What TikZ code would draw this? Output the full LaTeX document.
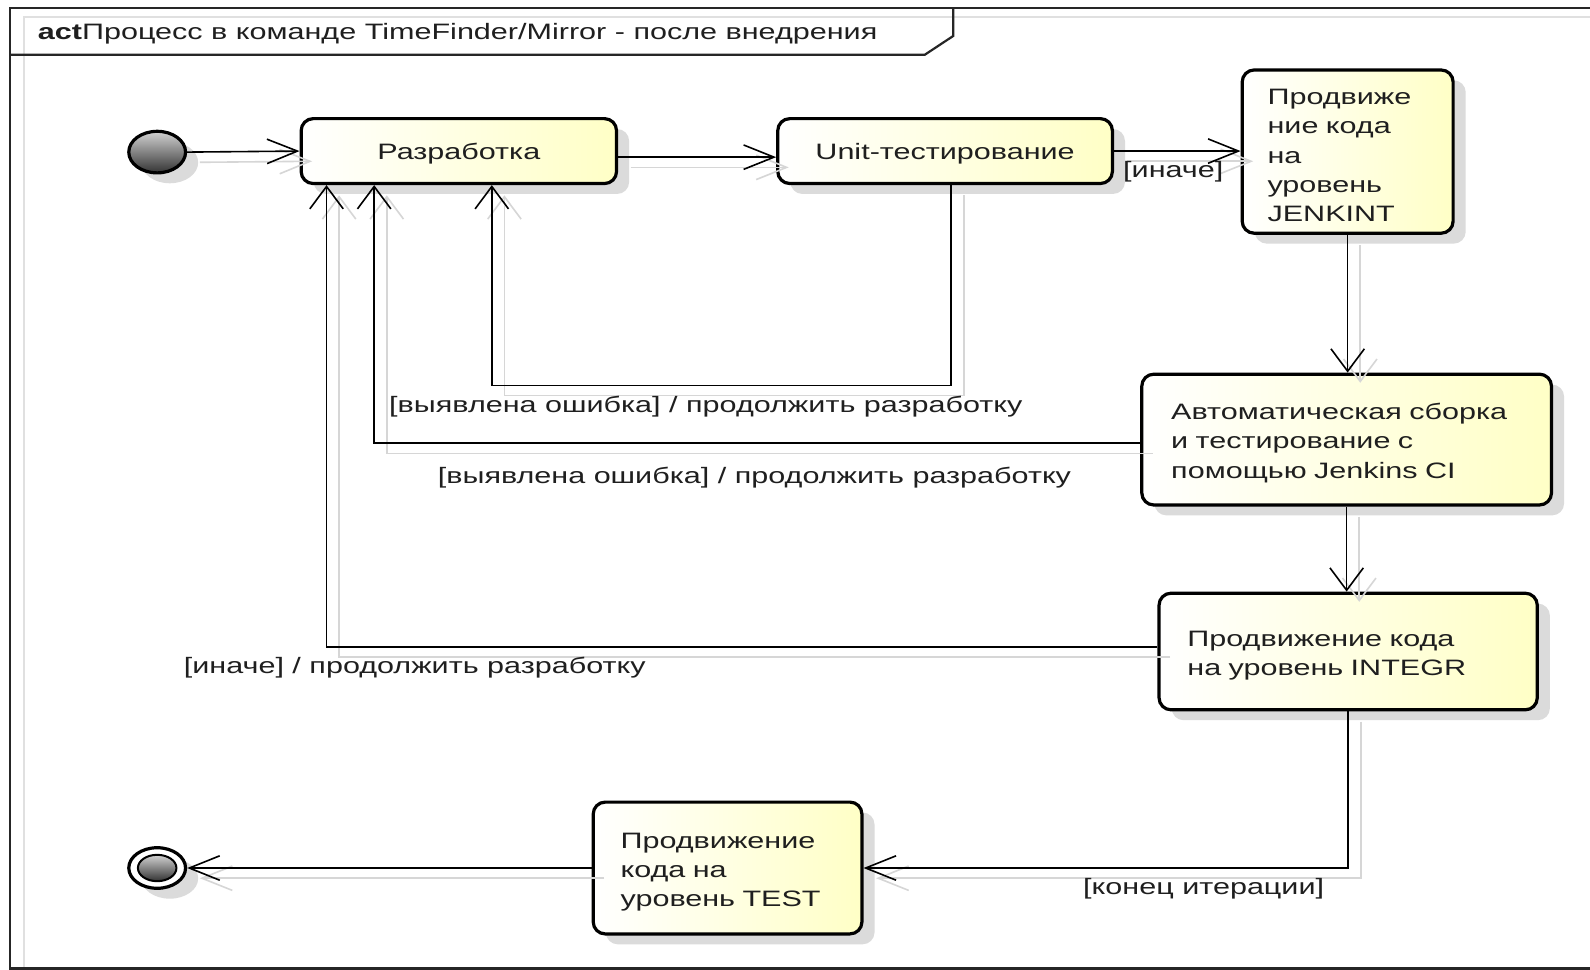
\documentclass[tikz,border=0pt]{standalone}
\usepackage{fontspec}
\setmainfont{Liberation Sans}[FakeStretch=1.37]
\usetikzlibrary{arrows.meta,shadows,shapes.geometric}
\newlength\U
\setlength\U{0.507pt}
\definecolor{boxy}{RGB}{255,255,198}
\newcommand\conn[2][]{\draw[ghost,#1] #2; \draw[wire,#1] #2;}
\begin{document}
\begin{tikzpicture}[x=0.507pt,y=-0.507pt,
  txt/.style={font=\fontsize{11.15pt}{14.55pt}\selectfont, text=black!88},
  box/.style={txt, draw=black, line width=1.6pt, rounded corners=6pt,
    left color=white, right color=boxy, inner ysep=0pt,
    drop shadow={shadow xshift=6.3pt, shadow yshift=-5.2pt, fill=black!14, opacity=1}},
  cbox/.style={box, text depth=0pt},
  lbox/.style={box, align=left, execute at begin node={\rule{0pt}{11.6pt}}},
  wire/.style={draw=black, line width=0.8pt},
  ghost/.style={draw=black!16, line width=0.8pt, transform canvas={xshift=6.3pt,yshift=-5.1pt}},
  harr/.style={-{Straight Barb[length=15.2pt,width=12.2pt]}},
  varr/.style={-{Straight Barb[length=11.2pt,width=16.7pt]}},
  lab/.style={txt, inner sep=0pt},
  blob/.style={ellipse, draw=black, line width=1.6pt, inner sep=0pt,
    top color=gray!35, bottom color=black!80}
]
\useasboundingbox (0,0) rectangle (1568,956);
\fill[white] (0,0) rectangle (1568,956);
% frame
\draw[black!12, line width=1pt] (1580,17) -- (24,17) -- (24,960);
\draw[black!85, line width=1.1pt] (1580,8) -- (10,8) -- (10,955) -- (1580,955);
\draw[black!85, line width=1.1pt] (10,54) -- (912,54) -- (940,35.5) -- (940,8);
\node[lab, anchor=west] (title) at (37,33) {\textbf{act}Процесс в команде TimeFinder/Mirror - после внедрения};

% nodes
\node[blob, minimum width=56\U, minimum height=41\U,
  drop shadow={shadow xshift=6.3pt, shadow yshift=-5.2pt, fill=black!14, opacity=1}] (init) at (155,150) {};
\node[ellipse, draw=black, line width=1.6pt, fill=white, inner sep=0pt,
  minimum width=56\U, minimum height=40\U,
  drop shadow={shadow xshift=6.3pt, shadow yshift=-5.2pt, fill=black!14, opacity=1}] (final) at (155,856) {};
\node[blob, line width=1pt, minimum width=38\U, minimum height=26\U] (finalin) at (final.center) {};

\node[cbox, minimum width=311\U, minimum height=64\U] (razr) at (452.5,149) {Разработка};
\node[cbox, minimum width=330\U, minimum height=64\U] (unit) at (932,149) {Unit-тестирование};
\node[lbox, inner xsep=25\U, text width=158\U, minimum height=161\U] (jenk) at (1329,149.5)
  {Продвиже\\ние кода\\на\\уровень\\JENKINT};
\node[lbox, inner xsep=29\U, text width=346\U, minimum height=129\U] (auto) at (1328,433.5)
  {Автоматическая сборка\\и тестирование с\\помощью Jenkins CI};
\node[lbox, inner xsep=28\U, text width=317\U, minimum height=115\U] (integ) at (1329.5,642.5)
  {Продвижение кода\\на уровень INTEGR};
\node[lbox, inner xsep=27\U, text width=211\U, minimum height=130\U] (test) at (717.5,856)
  {Продвижение\\кода на\\уровень TEST};

% helper coordinates
\coordinate (l1) at (938,380);
\coordinate (l1b) at (485,380);
\coordinate (l2) at (369,437);
\coordinate (l3) at (322,638);

% connectors
\conn[harr]{(init.east) -- (razr.west)}
\conn[harr]{([yshift=-6\U]razr.east) -- ([yshift=-6\U]unit.west)}
\conn[harr]{(unit.east) -- (unit.east -| jenk.west)}
\conn[varr]{(jenk.south) -- (jenk.south |- auto.north)}
\conn[varr]{(auto.south) -- (auto.south |- integ.north)}
\conn[harr]{(integ.south) |- (test.east)}
\conn[harr]{(test.west) -- (final.east)}
\conn[varr]{(unit.south -| l1) -- (l1) -- (l1b) -- (razr.south -| l1b)}
\conn[varr]{(auto.west |- l2) -- (l2) -- (razr.south -| l2)}
\conn[varr]{(integ.west |- l3) -- (l3) -- (razr.south -| l3)}

% labels
\node[lab] (g1) at (1157,169) {[иначе]};
\node[lab] (g2) at (696,401) {[выявлена ошибка] / продолжить разработку};
\node[lab] (g3) at (744,471) {[выявлена ошибка] / продолжить разработку};
\node[lab] (g4) at (409,658) {[иначе] / продолжить разработку};
\node[lab] (g5) at (1187,876) {[конец итерации]};
\end{tikzpicture}
\end{document}
